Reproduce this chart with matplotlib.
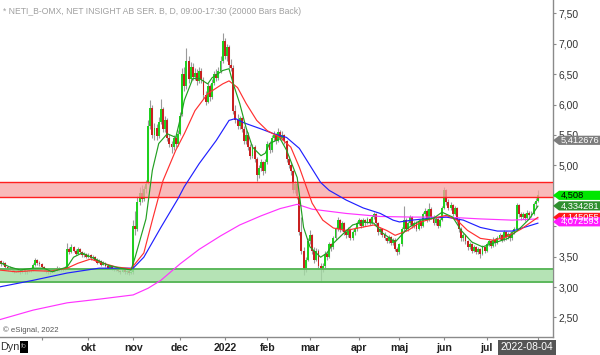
import numpy as np
import pandas as pd
import matplotlib
matplotlib.use("Agg")
import matplotlib.pyplot as plt
from matplotlib.patches import Polygon, Rectangle
from matplotlib.transforms import blended_transform_factory

plt.rcParams['font.family'] = ['Liberation Sans', 'DejaVu Sans']

# ---- daily bars, NETI B (2021-08-04 .. 2022-08-04) ----
first_day = "2021-08-04"
last_day = "2022-08-04"
holidays = ["2021-12-24", "2021-12-31", "2022-01-06", "2022-04-15",
            "2022-04-18", "2022-05-26", "2022-06-06", "2022-06-24"]

open_ = [
    3.38, 3.42, 3.38, 3.40, 3.33, 3.30, 3.32, 3.28, 3.26, 3.29,
    3.27, 3.25, 3.28, 3.24, 3.27, 3.30, 3.28, 3.36, 3.44, 3.40,
    3.38, 3.33, 3.28, 3.26, 3.24, 3.25, 3.29, 3.27, 3.31, 3.28,
    3.30, 3.29, 3.32, 3.62, 3.58, 3.66, 3.60, 3.55, 3.62, 3.57,
    3.52, 3.55, 3.50, 3.53, 3.48, 3.50, 3.45, 3.40, 3.43, 3.37,
    3.40, 3.35, 3.32, 3.34, 3.30, 3.28, 3.31, 3.27, 3.25, 3.28,
    3.24, 3.26, 3.23, 3.25, 4.00, 3.95, 4.40, 4.55, 4.45, 4.62,
    4.72, 5.65, 5.95, 5.50, 5.62, 5.48, 5.72, 5.92, 5.60, 5.75,
    5.45, 5.35, 5.30, 5.45, 5.36, 5.52, 5.85, 6.50, 6.30, 6.72,
    6.42, 6.62, 6.45, 6.52, 6.38, 6.55, 6.40, 6.15, 6.05, 6.30,
    6.12, 6.36, 6.50, 6.44, 6.56, 6.72, 7.05, 6.80, 6.95, 6.65,
    6.60, 5.90, 5.75, 5.65, 5.78, 5.60, 5.40, 5.50, 5.30, 5.15,
    5.30, 5.10, 4.85, 4.95, 5.05, 4.90, 5.05, 5.35, 5.25, 5.45,
    5.50, 5.40, 5.55, 5.45, 5.50, 5.40, 5.10, 5.00, 4.90, 4.60,
    4.70, 4.50, 3.90, 3.60, 3.30, 3.45, 3.75, 3.85, 3.60, 3.45,
    3.60, 3.35, 3.30, 3.35, 3.55, 3.50, 3.70, 3.65, 3.80, 3.95,
    4.10, 3.95, 4.05, 3.90, 3.85, 3.95, 3.80, 3.90, 3.95, 4.05,
    4.10, 4.00, 4.10, 4.05, 4.12, 4.05, 4.15, 4.20, 4.05, 3.90,
    3.95, 3.85, 3.80, 3.75, 3.82, 3.72, 3.78, 3.62, 3.58, 3.70,
    3.95, 4.10, 3.95, 4.05, 4.15, 4.00, 4.05, 3.95, 4.08, 4.00,
    4.20, 4.25, 4.10, 4.28, 4.15, 4.05, 4.12, 4.00, 4.10, 4.30,
    4.60, 4.40, 4.30, 4.35, 4.20, 4.30, 4.10, 3.95, 3.80, 3.85,
    3.75, 3.65, 3.70, 3.60, 3.65, 3.58, 3.62, 3.55, 3.65, 3.60,
    3.70, 3.75, 3.68, 3.78, 3.72, 3.80, 3.85, 3.78, 3.90, 3.82,
    3.88, 3.80, 3.90, 3.95, 4.35, 4.20, 4.15, 4.20, 4.13, 4.22,
    4.18, 4.20, 4.36, 4.42,
]
high = [
    3.45, 3.44, 3.43, 3.41, 3.35, 3.35, 3.33, 3.30, 3.31, 3.31,
    3.29, 3.30, 3.29, 3.29, 3.32, 3.31, 3.39, 3.48, 3.46, 3.43,
    3.39, 3.35, 3.30, 3.28, 3.28, 3.31, 3.30, 3.34, 3.33, 3.32,
    3.32, 3.35, 3.72, 3.66, 3.70, 3.68, 3.62, 3.66, 3.64, 3.59,
    3.58, 3.56, 3.56, 3.54, 3.52, 3.51, 3.47, 3.46, 3.44, 3.42,
    3.41, 3.37, 3.36, 3.35, 3.31, 3.33, 3.32, 3.28, 3.30, 3.29,
    3.28, 3.27, 3.27, 4.10, 4.25, 4.50, 4.65, 4.68, 4.66, 4.76,
    5.75, 6.07, 6.00, 5.70, 5.68, 5.80, 6.10, 5.96, 5.82, 5.78,
    5.52, 5.40, 5.50, 5.50, 5.58, 5.88, 6.60, 6.62, 6.93, 6.80,
    6.70, 6.68, 6.60, 6.58, 6.62, 6.60, 6.45, 6.22, 6.35, 6.34,
    6.42, 6.56, 6.58, 6.62, 6.80, 7.18, 7.10, 7.00, 6.98, 6.75,
    6.65, 6.00, 5.85, 5.82, 5.80, 5.65, 5.58, 5.55, 5.36, 5.36,
    5.33, 5.14, 5.00, 5.10, 5.08, 5.10, 5.40, 5.40, 5.50, 5.56,
    5.54, 5.62, 5.58, 5.56, 5.52, 5.42, 5.15, 5.05, 4.92, 4.75,
    4.74, 4.52, 4.15, 3.65, 3.50, 3.80, 3.93, 3.88, 3.66, 3.64,
    3.62, 3.40, 3.40, 3.60, 3.58, 3.74, 3.73, 3.84, 3.98, 4.15,
    4.12, 4.08, 4.07, 3.95, 3.98, 3.97, 3.93, 3.98, 4.08, 4.14,
    4.12, 4.13, 4.12, 4.15, 4.14, 4.18, 4.24, 4.22, 4.07, 3.99,
    3.97, 3.90, 3.83, 3.86, 3.84, 3.81, 3.80, 3.65, 3.73, 3.99,
    4.34, 4.14, 4.08, 4.19, 4.17, 4.09, 4.08, 4.11, 4.10, 4.24,
    4.30, 4.28, 4.38, 4.31, 4.18, 4.16, 4.14, 4.14, 4.34, 4.64,
    4.62, 4.44, 4.39, 4.37, 4.34, 4.32, 4.13, 3.98, 3.89, 3.87,
    3.78, 3.74, 3.72, 3.69, 3.67, 3.66, 3.64, 3.69, 3.67, 3.74,
    3.79, 3.77, 3.82, 3.80, 3.84, 3.89, 3.87, 3.93, 3.92, 3.91,
    3.90, 3.93, 3.99, 4.38, 4.37, 4.23, 4.24, 4.22, 4.26, 4.25,
    4.25, 4.40, 4.46, 4.59,
]
low = [
    3.36, 3.35, 3.36, 3.31, 3.27, 3.28, 3.25, 3.23, 3.24, 3.25,
    3.22, 3.23, 3.21, 3.22, 3.25, 3.25, 3.27, 3.34, 3.37, 3.35,
    3.30, 3.26, 3.23, 3.21, 3.22, 3.24, 3.24, 3.26, 3.26, 3.26,
    3.26, 3.28, 3.31, 3.54, 3.56, 3.57, 3.52, 3.54, 3.54, 3.49,
    3.50, 3.47, 3.48, 3.45, 3.46, 3.42, 3.38, 3.39, 3.35, 3.36,
    3.33, 3.30, 3.30, 3.28, 3.26, 3.27, 3.25, 3.22, 3.24, 3.21,
    3.22, 3.20, 3.21, 3.22, 3.85, 3.92, 4.35, 4.40, 4.42, 4.55,
    4.70, 5.60, 5.45, 5.42, 5.42, 5.45, 5.68, 5.55, 5.55, 5.40,
    5.30, 5.20, 5.26, 5.30, 5.32, 5.50, 5.82, 6.22, 6.25, 6.35,
    6.38, 6.40, 6.40, 6.32, 6.35, 6.35, 6.10, 6.00, 6.02, 6.06,
    6.10, 6.32, 6.38, 6.40, 6.52, 6.68, 6.75, 6.72, 6.60, 6.55,
    5.85, 5.70, 5.60, 5.60, 5.55, 5.35, 5.36, 5.25, 5.10, 5.12,
    5.05, 4.75, 4.80, 4.90, 4.85, 4.87, 5.02, 5.20, 5.22, 5.40,
    5.35, 5.38, 5.42, 5.42, 5.36, 5.05, 4.95, 4.85, 4.55, 4.55,
    4.45, 3.85, 3.55, 3.20, 3.25, 3.42, 3.70, 3.55, 3.40, 3.42,
    3.30, 3.08, 3.25, 3.32, 3.45, 3.48, 3.60, 3.62, 3.77, 3.92,
    3.90, 3.92, 3.86, 3.80, 3.82, 3.77, 3.78, 3.86, 3.92, 4.02,
    3.97, 3.98, 4.01, 4.03, 4.02, 4.03, 4.12, 4.02, 3.86, 3.87,
    3.82, 3.77, 3.72, 3.72, 3.69, 3.69, 3.59, 3.52, 3.55, 3.68,
    3.92, 3.92, 3.92, 4.02, 3.97, 3.97, 3.92, 3.93, 3.97, 3.98,
    4.16, 4.07, 4.08, 4.12, 4.02, 4.02, 3.97, 3.98, 4.08, 4.28,
    4.35, 4.26, 4.27, 4.16, 4.18, 4.06, 3.91, 3.76, 3.76, 3.71,
    3.61, 3.62, 3.56, 3.57, 3.54, 3.55, 3.47, 3.52, 3.56, 3.57,
    3.67, 3.64, 3.65, 3.68, 3.70, 3.77, 3.74, 3.75, 3.78, 3.79,
    3.76, 3.78, 3.87, 3.93, 4.15, 4.10, 4.12, 4.09, 4.10, 4.14,
    4.15, 4.18, 4.30, 4.40,
]
close = [
    3.42, 3.38, 3.40, 3.33, 3.30, 3.32, 3.28, 3.26, 3.29, 3.27,
    3.25, 3.28, 3.24, 3.27, 3.30, 3.28, 3.36, 3.44, 3.40, 3.38,
    3.33, 3.28, 3.26, 3.24, 3.25, 3.29, 3.27, 3.31, 3.28, 3.30,
    3.29, 3.32, 3.62, 3.58, 3.66, 3.60, 3.55, 3.62, 3.57, 3.52,
    3.55, 3.50, 3.53, 3.48, 3.50, 3.45, 3.40, 3.43, 3.37, 3.40,
    3.35, 3.32, 3.34, 3.30, 3.28, 3.31, 3.27, 3.25, 3.28, 3.24,
    3.26, 3.23, 3.25, 4.00, 3.95, 4.40, 4.55, 4.45, 4.62, 4.70,
    5.65, 5.95, 5.50, 5.62, 5.48, 5.72, 5.92, 5.60, 5.75, 5.45,
    5.35, 5.30, 5.45, 5.36, 5.52, 5.82, 6.50, 6.30, 6.72, 6.42,
    6.62, 6.45, 6.52, 6.38, 6.55, 6.40, 6.15, 6.05, 6.30, 6.12,
    6.36, 6.50, 6.44, 6.56, 6.72, 7.05, 6.80, 6.95, 6.65, 6.60,
    5.90, 5.75, 5.65, 5.78, 5.60, 5.40, 5.50, 5.30, 5.15, 5.30,
    5.10, 4.85, 4.95, 5.05, 4.90, 5.05, 5.35, 5.25, 5.45, 5.50,
    5.40, 5.55, 5.45, 5.50, 5.40, 5.10, 5.00, 4.90, 4.60, 4.70,
    4.50, 3.90, 3.60, 3.30, 3.45, 3.75, 3.85, 3.60, 3.45, 3.60,
    3.35, 3.30, 3.35, 3.55, 3.50, 3.70, 3.65, 3.80, 3.95, 4.10,
    3.95, 4.05, 3.90, 3.85, 3.95, 3.80, 3.90, 3.95, 4.05, 4.10,
    4.00, 4.10, 4.05, 4.12, 4.05, 4.15, 4.20, 4.05, 3.90, 3.95,
    3.85, 3.80, 3.75, 3.82, 3.72, 3.78, 3.62, 3.58, 3.70, 3.95,
    4.10, 3.95, 4.05, 4.15, 4.00, 4.05, 3.95, 4.08, 4.00, 4.20,
    4.25, 4.10, 4.28, 4.15, 4.05, 4.12, 4.00, 4.10, 4.30, 4.60,
    4.40, 4.30, 4.35, 4.20, 4.30, 4.10, 3.95, 3.80, 3.85, 3.75,
    3.65, 3.70, 3.60, 3.65, 3.58, 3.62, 3.55, 3.65, 3.60, 3.70,
    3.75, 3.68, 3.78, 3.72, 3.80, 3.85, 3.78, 3.90, 3.82, 3.88,
    3.80, 3.90, 3.95, 4.35, 4.20, 4.15, 4.20, 4.13, 4.22, 4.18,
    4.20, 4.36, 4.42, 4.508,
]

# ---- moving averages (bar index, value) ----
ma_fast_idx = [0, 5, 10, 16, 21, 25, 32, 35, 39, 44, 51, 57, 62, 64, 69, 72, 75, 79, 83, 86,
               87, 91, 94, 98, 100, 105, 108, 110, 113, 116, 119, 123, 125, 127, 132, 135,
               140, 143, 146, 151, 154, 157, 162, 166, 171, 176, 180, 186, 192, 198, 204,
               208, 213, 217, 222, 227, 232, 239, 245, 249, 253]
ma_fast = [3.41, 3.33, 3.28, 3.31, 3.31, 3.25, 3.33, 3.49, 3.56, 3.48, 3.36, 3.31, 3.28,
           3.50, 4.12, 4.92, 5.36, 5.52, 5.46, 5.90, 6.07, 6.43, 6.43, 6.34, 6.44, 6.56,
           6.59, 6.34, 6.02, 5.62, 5.30, 5.16, 5.20, 5.36, 5.44, 5.25, 4.80, 3.98, 3.66,
           3.49, 3.56, 3.72, 3.89, 4.02, 4.07, 4.05, 3.89, 3.74, 3.97, 4.10, 4.13, 4.23,
           4.15, 3.93, 3.74, 3.66, 3.72, 3.80, 3.98, 4.12, 4.33]

ma_mid_idx = [0, 8, 16, 24, 32, 37, 43, 47, 55, 62, 68, 72, 77, 83, 87, 92, 98, 105, 108,
              112, 116, 121, 126, 132, 137, 141, 147, 152, 157, 163, 170, 176, 182, 186,
              192, 198, 204, 210, 215, 220, 226, 232, 238, 245, 253]
ma_mid = [3.28, 3.25, 3.27, 3.26, 3.31, 3.39, 3.46, 3.41, 3.33, 3.30, 3.56, 4.10, 4.75,
          5.25, 5.52, 5.90, 6.18, 6.34, 6.39, 6.28, 6.02, 5.74, 5.57, 5.46, 5.30, 4.97,
          4.38, 4.10, 3.97, 3.93, 3.98, 4.02, 3.93, 3.85, 3.93, 4.07, 4.13, 4.18, 4.10,
          3.93, 3.80, 3.77, 3.82, 3.95, 4.145]

ma_slow_idx = [0, 16, 32, 47, 63, 68, 76, 84, 87, 94, 102, 108, 111, 115, 123, 129, 135,
               141, 151, 155, 163, 171, 179, 185, 188, 194, 202, 210, 218, 226, 234, 241, 253]
ma_slow = [3.00, 3.11, 3.23, 3.31, 3.31, 3.49, 3.98, 4.45, 4.65, 5.03, 5.41, 5.74, 5.77,
           5.70, 5.60, 5.52, 5.46, 5.28, 4.72, 4.59, 4.43, 4.30, 4.21, 4.10, 4.07, 4.10,
           4.13, 4.15, 4.10, 3.98, 3.92, 3.92, 4.05]

ma_long_idx = [0, 16, 32, 47, 63, 70, 76, 85, 94, 104, 113, 123, 132, 140, 147, 163, 179,
               194, 210, 226, 241, 253]
ma_long = [2.46, 2.62, 2.74, 2.80, 2.87, 2.98, 3.11, 3.38, 3.62, 3.84, 4.02, 4.17, 4.29,
           4.36, 4.28, 4.21, 4.16, 4.15, 4.15, 4.12, 4.10, 4.12]

# ---- zones and last-value tags ----
resist_zone = (4.48, 4.72)
support_zone = (3.08, 3.30)
tag_values = [5.412676, 4.508, 4.334281, 4.145055, 4.072593]
tag_colors = ["#7d7d7d", "#00e600", "#2f8f2f", "#ff1a1a", "#ff1aff"]
tag_text_colors = ["white", "black", "white", "white", "white"]

month_starts = ["2021-09-01", "2021-10-01", "2021-11-01", "2021-12-01", "2022-01-01",
                "2022-02-01", "2022-03-01", "2022-04-01", "2022-05-01", "2022-06-01",
                "2022-07-01"]
month_labels = ["", "okt", "nov", "dec", "2022", "feb", "mar", "apr", "maj", "jun", "jul"]

title = "* NETI_B-OMX, NET INSIGHT AB SER. B, D, 09:00-17:30 (20000 Bars Back)"

# ---- figure ----
W, H = 600, 355
fig = plt.figure(figsize=(W / 100, H / 100), dpi=100)
ax = fig.add_axes([0, 18 / H, 553 / W, 337 / H])

dates = pd.bdate_range(first_day, last_day)
dates = dates[~dates.isin(pd.to_datetime(holidays))]
x = np.arange(len(close))
o = np.array(open_)
c = np.array(close)
up = c >= o

ax.vlines(x, low, high, color="#9a9a9a", lw=0.8, zorder=2)
ax.bar(x[up], (c - o)[up], bottom=o[up], width=0.9, color="#1fd01f",
       linewidth=0, zorder=3)
ax.bar(x[~up], (o - c)[~up], bottom=c[~up], width=0.9, color="#c82020",
       linewidth=0, zorder=3)

# zones
ax.axhspan(*resist_zone, color="#f7a3a3", alpha=0.75, lw=0, zorder=4)
for v in resist_zone:
    ax.axhline(v, color="#ff2020", lw=1.0, zorder=4.5)
ax.axhspan(*support_zone, color="#a3dca3", alpha=0.8, lw=0, zorder=4)
for v in support_zone:
    ax.axhline(v, color="#5cb85c", lw=1.4, zorder=4.5)

# moving averages
ax.plot(ma_long_idx, ma_long, color="#ff33ff", lw=0.85, zorder=5)
ax.plot(ma_slow_idx, ma_slow, color="#2020ff", lw=0.85, zorder=5)
ax.plot(ma_mid_idx, ma_mid, color="#ff3030", lw=0.85, zorder=5)
ax.plot(ma_fast_idx, ma_fast, color="#22a022", lw=0.85, zorder=5)

ax.set_xlim(0.47, 260.1)
ax.set_ylim(2.178, 7.72)

# axes styling
for s in ["left", "top"]:
    ax.spines[s].set_visible(False)
for s in ["right", "bottom"]:
    ax.spines[s].set_color("#8a8a8a")
    ax.spines[s].set_linewidth(1.0)

# 4,00 and 4,50 sit fully under the value tags in the reference
yt = np.arange(2.5, 7.51, 0.5)
ylabels = ["" if abs(v - 4.0) < 1e-6 or abs(v - 4.5) < 1e-6 else f"{v:.2f}".replace(".", ",")
           for v in yt]
ax.yaxis.tick_right()
ax.set_yticks(yt, ylabels)
ax.tick_params(axis="y", length=2.5, width=0.8, color="#8a8a8a",
               labelsize=7.4, labelcolor="#333333", pad=1.2)

tick_idx = [int(np.argmax(dates >= pd.Timestamp(m))) for m in month_starts]
ax.set_xticks(tick_idx + [len(close) - 1], month_labels + [""])
ax.tick_params(axis="x", length=2.5, width=0.8, color="#8a8a8a",
               labelsize=7.6, labelcolor="#222222", pad=1.5)
for lbl in ax.get_xticklabels():
    lbl.set_fontweight("bold")

# last-value tags on the price scale
tr = blended_transform_factory(fig.transFigure, ax.transData)
half = 4.6 / 60.8
for val, fc, tc in zip(tag_values, tag_colors, tag_text_colors):
    pts = [(553 / W, val), (559 / W, val + half), (1.0, val + half),
           (1.0, val - half), (559 / W, val - half)]
    fig.add_artist(Polygon(pts, closed=True, transform=tr, fc=fc, ec="none", zorder=20))
    fig.text(561 / W, val, f"{val:.6f}".rstrip("0").replace(".", ","), transform=tr,
             color=tc, fontsize=6.7, va="center", ha="left", zorder=21)

# header / footer texts
fig.text(3 / W, 1 - 11 / H, title, fontsize=6.2, color="#a0a0a0", va="center")
fig.text(3 / W, 1 - 330 / H, "© eSignal, 2022", fontsize=5.6, color="#555555", va="center")
fig.text(0.5 / W, 1 - 347 / H, "Dyn", fontsize=7.8, color="#333333", va="center")
fig.add_artist(Rectangle((20 / W, 1 - 353 / H), 8 / W, 12 / H, transform=fig.transFigure,
                         fc="black", ec="none"))
fig.text(24 / W, 1 - 347 / H, "fo", fontsize=5, color="#9a9a9a", va="center", ha="center")
fig.text(527 / W, 1 - 347.5 / H, last_day, fontsize=7.4, color="white", va="center",
         ha="center", bbox=dict(fc="#555555", ec="none", pad=1.8))

fig.savefig("out.png", dpi=100)
